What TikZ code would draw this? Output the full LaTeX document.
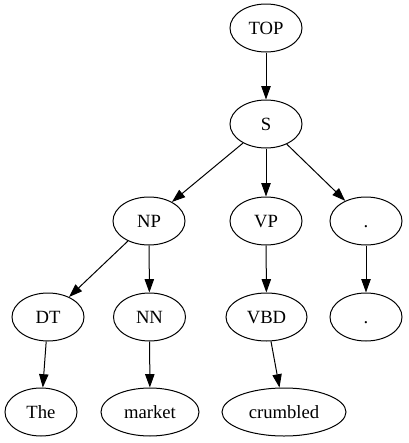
\documentclass[tikz,border=0pt]{standalone}
\usepackage{fontspec}
\setmainfont{Liberation Serif}
\usetikzlibrary{shapes.geometric,arrows.meta}
\begin{document}
\begin{tikzpicture}[x=0.75pt,y=-0.75pt,
  tnode/.style={draw,ellipse,line width=0.75pt,inner sep=0pt,minimum width=54pt,minimum height=36pt,text height=11pt,text depth=2pt,font=\fontsize{14pt}{16pt}\selectfont},
  edge/.style={-{Triangle[length=10pt,width=7pt]},line width=0.75pt}]
\useasboundingbox (0,0) rectangle (409,443);
\node[tnode] (top) at (266,28) {TOP};
\node[tnode] (s) at (266,124) {S};
\node[tnode] (np) at (149,221) {NP};
\node[tnode] (vp) at (266,221) {VP};
\node[tnode] (p1) at (366,221) {.};
\node[tnode] (dt) at (48,317) {DT};
\node[tnode] (nn) at (149.5,317) {NN};
\node[tnode,minimum width=60.75pt] (vbd) at (266.5,317) {VBD};
\node[tnode] (p2) at (366,317) {.};
\node[tnode] (the) at (41,412) {The};
\node[tnode,minimum width=73.5pt] (market) at (150,412) {market};
\node[tnode,minimum width=93pt] (crumbled) at (284,412) {crumbled};
\draw[edge] (top) -- (s);
\draw[edge] (s) -- (np);
\draw[edge] (s) -- (vp);
\draw[edge] (s) -- (p1);
\draw[edge] (np) -- (dt);
\draw[edge] (np) -- (nn);
\draw[edge] (vp) -- (vbd);
\draw[edge] (p1) -- (p2);
\draw[edge] (dt) -- (the);
\draw[edge] (nn) -- (market);
\draw[edge] (vbd) -- (crumbled);
\end{tikzpicture}
\end{document}
